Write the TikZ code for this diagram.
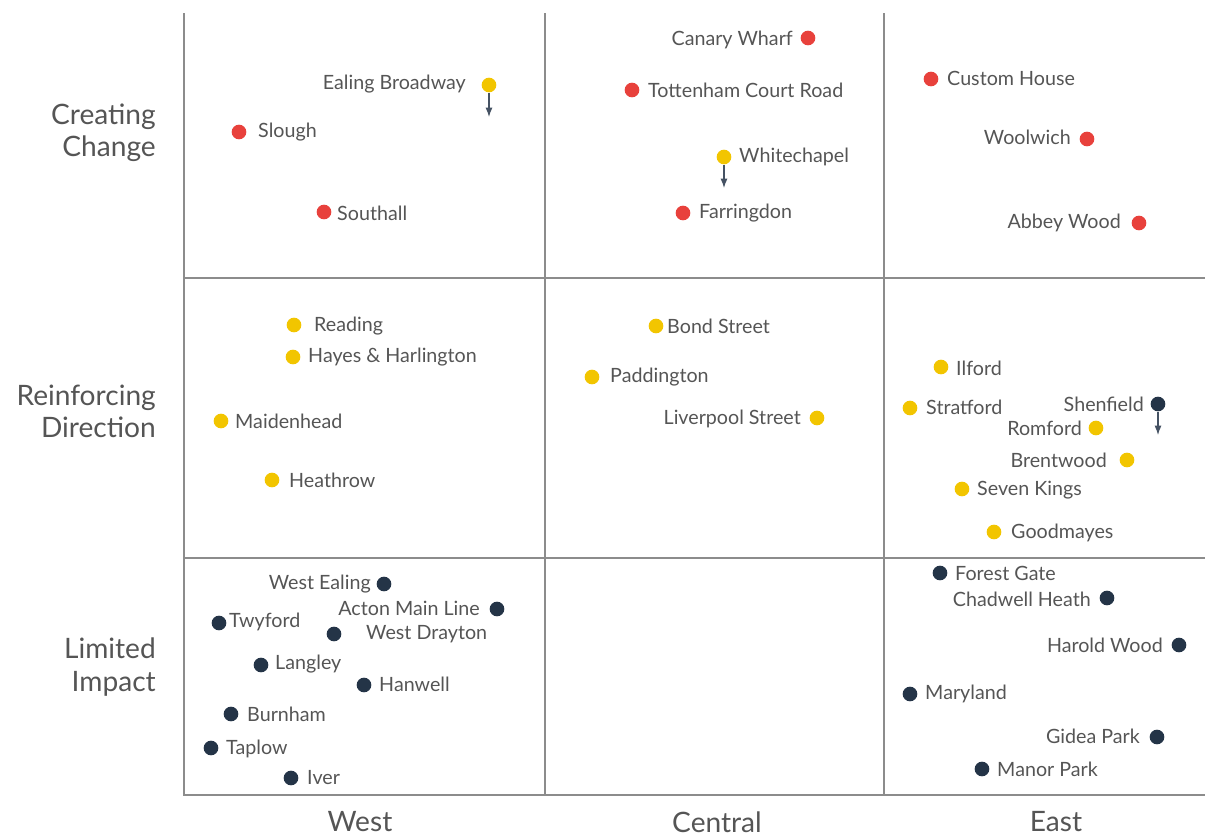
\documentclass[tikz,border=0pt]{standalone}
\usepackage{fontspec}
\setmainfont{Lato}
\usetikzlibrary{arrows.meta}
\definecolor{stred}{HTML}{E8413C}
\definecolor{styellow}{HTML}{F2C500}
\definecolor{stnavy}{HTML}{243447}
\definecolor{sttext}{HTML}{555555}
\definecolor{stgrid}{HTML}{8C8C8C}
\tikzset{
  dot/.style={circle, fill=#1, inner sep=0pt, minimum size=12.5pt},
  lbl/.style={text=sttext, inner sep=0pt, font=\fontsize{16.8}{18}\selectfont},
  rowlbl/.style={text=sttext, inner sep=0pt, align=right, anchor=east, font=\fontsize{24}{27.5}\selectfont},
  collbl/.style={text=sttext, inner sep=0pt, font=\fontsize{24}{26}\selectfont},
  gridline/.style={stgrid, line width=1.1pt},
  dropline/.style={stnavy!85, line width=1pt, -{Latex[length=8pt,width=6pt]}}
}

\begin{document}
\begin{tikzpicture}[x=0.03cm, y=-0.03cm]
\useasboundingbox (0,0) rectangle (1205,837);

% frame and grid
\draw[gridline] (184,13) -- (184,795) -- (1205,795);
\draw[gridline] (545,13) -- (545,795);
\draw[gridline] (884,13) -- (884,795);
\draw[gridline] (184,278) -- (1205,278);
\draw[gridline] (184,558) -- (1205,558);

% axis labels
\node[rowlbl] (rowcc) at (156,133) {Creating\\Change};
\node[rowlbl] (rowrd) at (156,411) {Reinforcing\\Direction};
\node[rowlbl] (rowli) at (156,667) {Limited\\Impact};
\node[collbl] (colw) at (360,822) {West};
\node[collbl] (colc) at (717,822) {Central};
\node[collbl] (cole) at (1056,822) {East};

% creating change, west
\node[dot=styellow] (ealing) at (489,85) {};
\node[lbl, anchor=east] (ealingl) at (466,84) {Ealing Broadway};
\coordinate (ealingend) at (489,117);
\draw[dropline] (ealing) -- (ealingend);
\node[dot=stred] (slough) at (239,132) {};
\node[lbl, anchor=west] (sloughl) at (258,132) {Slough};
\node[dot=stred] (southall) at (324,212) {};
\node[lbl, anchor=west] (southalll) at (337,213) {Southall};

% creating change, central
\node[dot=stred] (canary) at (808,38) {};
\node[lbl, anchor=east] (canaryl) at (793,40) {Canary Wharf};
\node[dot=stred] (tcr) at (632,90) {};
\node[lbl, anchor=west] (tcrl) at (648,90) {Tottenham Court Road};
\node[dot=styellow] (whitechapel) at (724,157) {};
\node[lbl, anchor=west] (whitechapell) at (739,157) {Whitechapel};
\coordinate (whitechapelend) at (724,188);
\draw[dropline] (whitechapel) -- (whitechapelend);
\node[dot=stred] (farringdon) at (683,213) {};
\node[lbl, anchor=west] (farringdonl) at (699,213) {Farringdon};

% creating change, east
\node[dot=stred] (custom) at (931,79) {};
\node[lbl, anchor=west] (customl) at (947,78) {Custom House};
\node[dot=stred] (woolwich) at (1087,139) {};
\node[lbl, anchor=east] (woolwichl) at (1071,137) {Woolwich};
\node[dot=stred] (abbey) at (1139,223) {};
\node[lbl, anchor=east] (abbeyl) at (1121,223) {Abbey Wood};

% reinforcing direction, west
\node[dot=styellow] (reading) at (294,325) {};
\node[lbl, anchor=west] (readingl) at (314,326) {Reading};
\node[dot=styellow] (hayes) at (293,357) {};
\node[lbl, anchor=west] (hayesl) at (308,357) {Hayes \& Harlington};
\node[dot=styellow] (maidenhead) at (221,421) {};
\node[lbl, anchor=west] (maidenheadl) at (235,421) {Maidenhead};
\node[dot=styellow] (heathrow) at (272,480) {};
\node[lbl, anchor=west] (heathrowl) at (289,480) {Heathrow};

% reinforcing direction, central
\node[dot=styellow] (bond) at (656,326) {};
\node[lbl, anchor=west] (bondl) at (667,326) {Bond Street};
\node[dot=styellow] (paddington) at (592,377) {};
\node[lbl, anchor=west] (paddingtonl) at (610,377) {Paddington};
\node[dot=styellow] (liverpool) at (817,418) {};
\node[lbl, anchor=east] (liverpooll) at (801,419) {Liverpool Street};

% reinforcing direction, east
\node[dot=styellow] (ilford) at (941,367) {};
\node[lbl, anchor=west] (ilfordl) at (956,368) {Ilford};
\node[dot=styellow] (stratford) at (910,408) {};
\node[lbl, anchor=west] (stratfordl) at (926,407) {Stratford};
\node[dot=stnavy] (shenfield) at (1158,404) {};
\node[lbl, anchor=east] (shenfieldl) at (1144,404) {Shenfield};
\coordinate (shenfieldend) at (1158,435);
\draw[dropline] (shenfield) -- (shenfieldend);
\node[dot=styellow] (romford) at (1096,428) {};
\node[lbl, anchor=east] (romfordl) at (1082,428) {Romford};
\node[dot=styellow] (brentwood) at (1127,460) {};
\node[lbl, anchor=east] (brentwoodl) at (1107,460) {Brentwood};
\node[dot=styellow] (sevenkings) at (962,489) {};
\node[lbl, anchor=west] (sevenkingsl) at (977,490) {Seven Kings};
\node[dot=styellow] (goodmayes) at (994,532) {};
\node[lbl, anchor=west] (goodmayesl) at (1011,533) {Goodmayes};

% limited impact, west
\node[dot=stnavy] (westealing) at (384,584) {};
\node[lbl, anchor=east] (westealingl) at (371,584) {West Ealing};
\node[dot=stnavy] (acton) at (497,609) {};
\node[lbl, anchor=east] (actonl) at (480,608) {Acton Main Line};
\node[dot=stnavy] (twyford) at (219,623) {};
\node[lbl, anchor=west] (twyfordl) at (229,622) {Twyford};
\node[dot=stnavy] (westdrayton) at (334,634) {};
\node[lbl, anchor=west] (westdraytonl) at (366,634) {West Drayton};
\node[dot=stnavy] (langley) at (261,665) {};
\node[lbl, anchor=west] (langleyl) at (275,664) {Langley};
\node[dot=stnavy] (hanwell) at (364,685) {};
\node[lbl, anchor=west] (hanwelll) at (379,684) {Hanwell};
\node[dot=stnavy] (burnham) at (231,714) {};
\node[lbl, anchor=west] (burnhaml) at (247,714) {Burnham};
\node[dot=stnavy] (taplow) at (211,748) {};
\node[lbl, anchor=west] (taplowl) at (226,749) {Taplow};
\node[dot=stnavy] (iver) at (291,778) {};
\node[lbl, anchor=west] (iverl) at (307,778) {Iver};

% limited impact, east
\node[dot=stnavy] (forestgate) at (940,573) {};
\node[lbl, anchor=west] (forestgatel) at (955,573) {Forest Gate};
\node[dot=stnavy] (chadwell) at (1107,598) {};
\node[lbl, anchor=east] (chadwelll) at (1091,599) {Chadwell Heath};
\node[dot=stnavy] (haroldwood) at (1179,645) {};
\node[lbl, anchor=east] (haroldwoodl) at (1163,645) {Harold Wood};
\node[dot=stnavy] (maryland) at (910,694) {};
\node[lbl, anchor=west] (marylandl) at (925,694) {Maryland};
\node[dot=stnavy] (gidea) at (1157,737) {};
\node[lbl, anchor=east] (gideal) at (1140,736) {Gidea Park};
\node[dot=stnavy] (manorpark) at (982,769) {};
\node[lbl, anchor=west] (manorparkl) at (997,769) {Manor Park};

\end{tikzpicture}
\end{document}
